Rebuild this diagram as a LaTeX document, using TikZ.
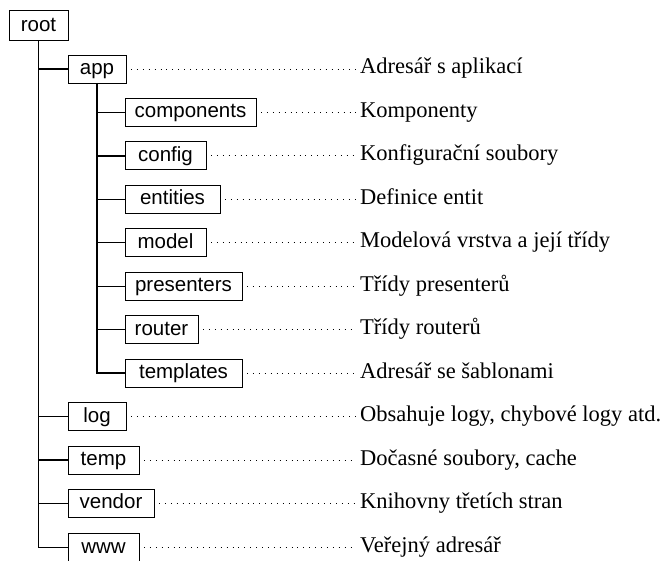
\documentclass[tikz,border=0pt]{standalone}
\usepackage{fontspec}
\setmainfont{Liberation Serif}
\newfontfamily\boxfont{Liberation Sans}
\begin{document}
\begin{tikzpicture}[x=1pt,y=-1pt,
  dir/.style={draw, line width=0.8pt, font=\boxfont\fontsize{20.5}{24}\selectfont,
    minimum height=28pt, inner sep=0pt, outer sep=0pt, anchor=west,
    text height=15pt, text depth=4pt},
  lab/.style={font=\fontsize{22.5}{27}\selectfont, anchor=west, inner sep=0pt,
    text height=15pt, text depth=5pt},
  tree/.style={line width=1.3pt},
  dots/.style={line width=0.9pt, dash pattern=on 0.9pt off 5pt}]
\useasboundingbox (0,0) rectangle (666,560);
% boxes
\node[dir, minimum width=59pt, minimum height=30pt] (root) at (9,25.5) {root};
\node[dir, minimum width=58pt] (app) at (68,68.95) {app};
\node[dir, minimum width=131pt] (comp) at (125,112.4) {components};
\node[dir, minimum width=81pt] (conf) at (125,155.85) {config};
\node[dir, minimum width=95pt] (ent) at (125,199.3) {entities};
\node[dir, minimum width=81pt] (mod) at (125,242.75) {model};
\node[dir, minimum width=117pt] (pres) at (125,286.2) {presenters};
\node[dir, minimum width=73pt] (rout) at (125,329.65) {router};
\node[dir, minimum width=117pt] (tmpl) at (125,373.1) {templates};
\node[dir, minimum width=58pt] (log) at (68,416.55) {log};
\node[dir, minimum width=71pt] (temp) at (68,460) {temp};
\node[dir, minimum width=86pt] (vend) at (68,503.45) {vendor};
\node[dir, minimum width=71pt] (www) at (68,547.5) {www};
% labels
\node[lab] (lapp) at (360,68.95) {Adresář s aplikací};
\node[lab] (lcomp) at (360,112.4) {Komponenty};
\node[lab] (lconf) at (360,155.85) {Konfigurační soubory};
\node[lab] (lent) at (360,199.3) {Definice entit};
\node[lab] (lmod) at (360,242.75) {Modelová vrstva a její třídy};
\node[lab] (lpres) at (360,286.2) {Třídy presenterů};
\node[lab] (lrout) at (360,329.65) {Třídy routerů};
\node[lab] (ltmpl) at (360,373.1) {Adresář se šablonami};
\node[lab] (llog) at (360,416.55) {Obsahuje logy, chybové logy atd.};
\node[lab] (ltemp) at (360,460) {Dočasné soubory, cache};
\node[lab] (lvend) at (360,503.45) {Knihovny třetích stran};
\node[lab] (lwww) at (360,547.5) {Veřejný adresář};
% tree lines
\draw[tree] (root.south) |- (www.west);
\foreach \n in {app,log,temp,vend}
  \draw[tree] (root.south |- \n.west) -- (\n.west);
\draw[tree] (app.south) |- (tmpl.west);
\foreach \n in {comp,conf,ent,mod,pres,rout}
  \draw[tree] (app.south |- \n.west) -- (\n.west);
% dotted leaders
\foreach \n/\l in {app/lapp,comp/lcomp,conf/lconf,ent/lent,mod/lmod,pres/lpres,rout/lrout,tmpl/ltmpl,log/llog,temp/ltemp,vend/lvend,www/lwww}
  \draw[dots] ([xshift=5pt]\n.east) -- ([xshift=-4pt]\l.west);
\end{tikzpicture}
\end{document}
